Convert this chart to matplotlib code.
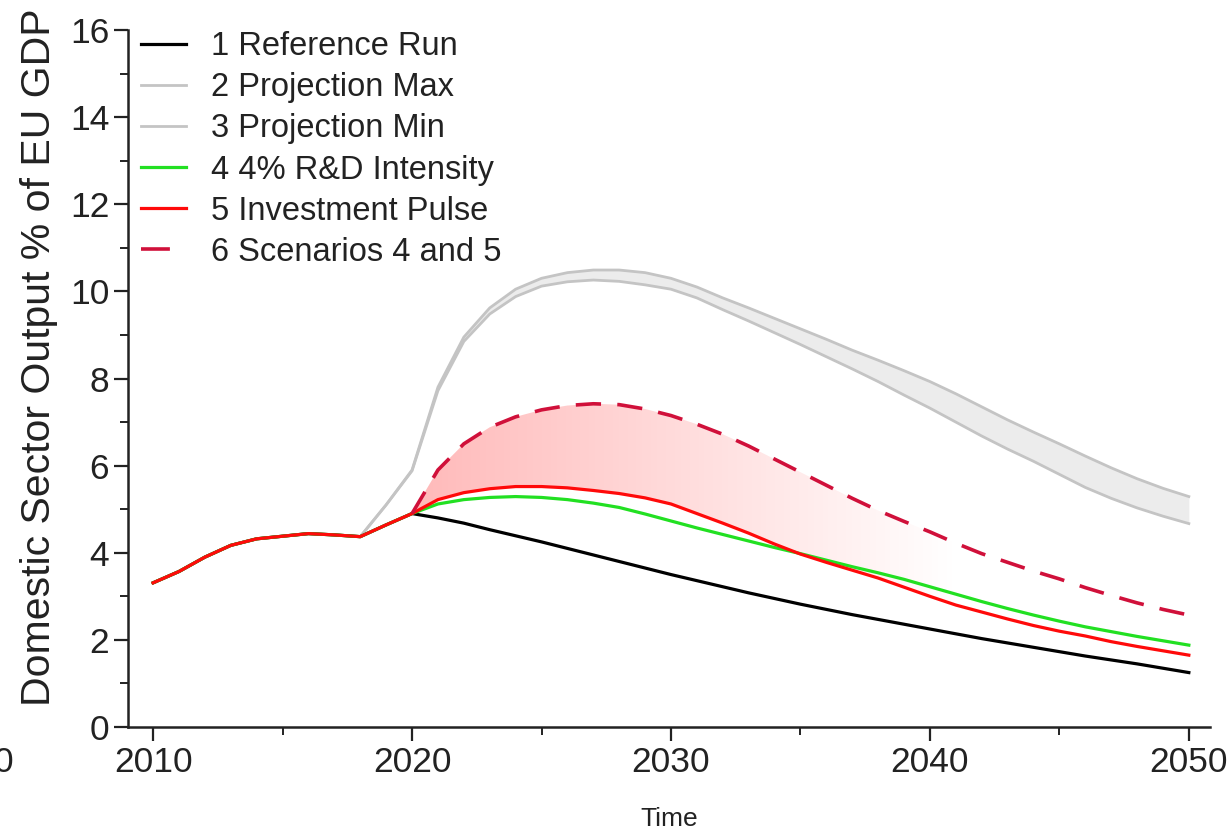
import matplotlib

matplotlib.use("Agg")
import matplotlib.pyplot as plt
import numpy as np
from matplotlib.lines import Line2D
from matplotlib.ticker import MultipleLocator

plt.rcParams["font.family"] = ["Liberation Sans", "DejaVu Sans"]

# shared history 2010-2018
hist_years = list(range(2010, 2019))
hist = [3.31, 3.57, 3.90, 4.17, 4.32, 4.38, 4.44, 4.41, 4.37]

# scenario years 2019-2050
proj_years = list(range(2019, 2051))
reference_run = [4.64, 4.90, 4.80, 4.68, 4.53, 4.39, 4.25, 4.10, 3.95, 3.80,
                 3.65, 3.50, 3.36, 3.22, 3.08, 2.95, 2.82, 2.70, 2.58, 2.47,
                 2.36, 2.25, 2.14, 2.03, 1.93, 1.83, 1.73, 1.63, 1.54, 1.45,
                 1.35, 1.25]
proj_max = [5.10, 5.90, 7.80, 8.95, 9.62, 10.05, 10.30, 10.43, 10.49, 10.49,
            10.43, 10.30, 10.10, 9.85, 9.62, 9.38, 9.14, 8.90, 8.65, 8.42,
            8.18, 7.93, 7.65, 7.35, 7.05, 6.77, 6.50, 6.22, 5.95, 5.70,
            5.48, 5.29]
proj_min = [5.10, 5.88, 7.72, 8.85, 9.48, 9.88, 10.12, 10.22, 10.26, 10.23,
            10.15, 10.05, 9.85, 9.58, 9.32, 9.05, 8.78, 8.50, 8.22, 7.93,
            7.62, 7.32, 7.00, 6.68, 6.38, 6.10, 5.80, 5.50, 5.25, 5.03,
            4.84, 4.67]
rd_intensity = [4.64, 4.90, 5.12, 5.22, 5.27, 5.29, 5.27, 5.22, 5.14, 5.04,
                4.89, 4.73, 4.57, 4.42, 4.27, 4.12, 3.98, 3.83, 3.68, 3.54,
                3.39, 3.22, 3.05, 2.88, 2.72, 2.57, 2.43, 2.30, 2.19, 2.08,
                1.98, 1.88]
invest_pulse = [4.64, 4.90, 5.22, 5.38, 5.47, 5.52, 5.52, 5.49, 5.43, 5.36,
                5.26, 5.12, 4.90, 4.68, 4.45, 4.20, 3.97, 3.78, 3.60, 3.42,
                3.21, 3.00, 2.80, 2.64, 2.48, 2.33, 2.20, 2.09, 1.96, 1.85,
                1.75, 1.65]
# scenario 6 only from 2020
combo_years = list(range(2020, 2051))
combo = [4.90, 5.90, 6.50, 6.88, 7.12, 7.28, 7.38, 7.42, 7.40, 7.30,
         7.15, 6.95, 6.72, 6.45, 6.15, 5.85, 5.55, 5.25, 4.97, 4.72,
         4.48, 4.22, 3.98, 3.78, 3.58, 3.40, 3.20, 3.02, 2.85, 2.70,
         2.57]

labels = ["1 Reference Run", "2 Projection Max", "3 Projection Min",
          "4 4% R&D Intensity", "5 Investment Pulse", "6 Scenarios 4 and 5"]

years = np.array(hist_years + proj_years)
ref = np.array(hist + reference_run)
pmax = np.array(hist + proj_max)
pmin = np.array(hist + proj_min)
rd = np.array(hist + rd_intensity)
ip = np.array(hist + invest_pulse)
cy = np.array(combo_years)
cv = np.array(combo)

fig = plt.figure(figsize=(12.27, 8.35), dpi=100)
ax = fig.add_axes([0.1043, 0.1293, 0.8817, 0.8348])

gray = "#c4c4c4"
green = "#22e022"
red = "#ff0a0a"
dark_red = "#d0103a"

ax.fill_between(years, pmin, pmax, color="#ececec", lw=0, zorder=1)
l_max, = ax.plot(years, pmax, color=gray, lw=2.0, zorder=2)
l_min, = ax.plot(years, pmin, color=gray, lw=2.0, zorder=2)

# gradient shading between scenario 5 and 6
ip_sub = ip[years >= 2020]
band = ax.fill_between(cy, ip_sub, cv, facecolor="none", lw=0)
grad = np.zeros((2, 300, 4))
xs = np.linspace(2020, 2050, 300)
grad[..., 0] = 1.0
grad[..., 1] = 0.62
grad[..., 2] = 0.62
grad[..., 3] = np.clip(0.72 * (1 - (xs - 2020) / 21.0), 0, 1)
im = ax.imshow(grad, extent=(2020, 2050, 0, 8), origin="lower",
               aspect="auto", interpolation="bilinear", zorder=1.5)
im.set_clip_path(band.get_paths()[0], ax.transData)

l_ref, = ax.plot(years, ref, color="black", lw=2.3, zorder=3)
l_rd, = ax.plot(years, rd, color=green, lw=2.3, zorder=4)
l_ip, = ax.plot(years, ip, color=red, lw=2.3, zorder=5)
ax.plot(cy, cv, color=dark_red, lw=2.6, ls=(0, (7, 4.5)), zorder=6)

ax.set_xlim(2009.03, 2050.81)
ax.set_ylim(0, 16)
ax.xaxis.set_major_locator(MultipleLocator(10))
ax.xaxis.set_minor_locator(MultipleLocator(5))
ax.yaxis.set_major_locator(MultipleLocator(2))
ax.yaxis.set_minor_locator(MultipleLocator(1))
ax.tick_params(which="major", direction="out", length=10, width=1.6,
               labelsize=25.5, color="#222222", labelcolor="#222222")
ax.tick_params(which="minor", direction="out", length=6, width=1.4,
               color="#222222")
for side in ("top", "right"):
    ax.spines[side].set_visible(False)
for side in ("left", "bottom"):
    ax.spines[side].set_linewidth(1.8)
    ax.spines[side].set_color("#222222")

ax.set_xlabel("Time", fontsize=19, color="#222222", labelpad=20)
ax.set_ylabel("Domestic Sector Output % of EU GDP", fontsize=29.5,
              color="#222222")
ax.yaxis.set_label_coords(-0.0645, 0.53)

# legend: dashed entry shows a single short dash
dash_proxy = Line2D([], [], color=dark_red, lw=2.6, ls=(0, (8, 30)))
leg = ax.legend([l_ref, l_max, l_min, l_rd, l_ip, dash_proxy], labels,
                loc="upper left", bbox_to_anchor=(-0.0095, 1.031),
                frameon=False, fontsize=23.5, handlelength=1.4,
                handletextpad=0.75, labelspacing=0.31, borderaxespad=0.3)
for t in leg.get_texts():
    t.set_color("#222222")

# stray label fragment from a neighbouring panel at the left edge
fig.text(13 / 1227, 1 - 762 / 835, "0", ha="right", va="center",
         fontsize=25.5, color="#222222")

fig.savefig("out.png", dpi=100)
